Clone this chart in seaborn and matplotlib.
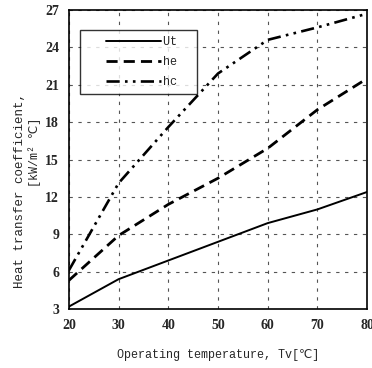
import matplotlib
matplotlib.use("Agg")
import matplotlib.pyplot as plt
from matplotlib.legend_handler import HandlerLine2D
import numpy as np
import seaborn as sns
import pandas as pd

temps = [20, 30, 40, 50, 60, 70, 80]
ut = [3.2, 5.4, 6.9, 8.4, 9.9, 11.0, 12.4]
he = [5.3, 8.9, 11.4, 13.5, 15.9, 19.0, 21.5]
hc = [6.1, 13.1, 17.6, 21.9, 24.6, 25.6, 26.7]
series_names = ["Ut", "he", "hc"]
x_ticks = [20, 30, 40, 50, 60, 70, 80]
y_ticks = [3, 6, 9, 12, 15, 18, 21, 24, 27]

df = pd.DataFrame({
    "T": temps * 3,
    "val": ut + he + hc,
    "series": sum([[n] * len(temps) for n in series_names], []),
})

sns.set_style("white")
plt.rcParams['font.family'] = ['Liberation Mono', 'DejaVu Sans']

fig = plt.figure(figsize=(3.72, 3.68), dpi=100)
ax = fig.add_axes([0.185, 0.160, 0.802, 0.813])

styles = {"Ut": ("-", 1.4), "he": ((0, (4, 2.2)), 2.0), "hc": ((0, (5, 2, 1, 2, 1, 2)), 1.9)}
for name in series_names:
    sub = df[df.series == name]
    ls, lw = styles[name]
    sns.lineplot(data=sub, x="T", y="val", ax=ax, color="black", linestyle=ls,
                 linewidth=lw, label=name + "  ")

ax.set_xlim(20, 80)
ax.set_ylim(3, 27)
ax.set_xticks(x_ticks)
ax.set_yticks(y_ticks)
ax.grid(True, color="#555555", linestyle=(0, (3, 5)), linewidth=0.8)
for s in ax.spines.values():
    s.set_color("black")
    s.set_linewidth(1.2)
ax.tick_params(axis="both", direction="in", length=0, labelsize=10, pad=7)
for lab in ax.get_xticklabels() + ax.get_yticklabels():
    lab.set_fontfamily("Liberation Serif")
    lab.set_fontweight("bold")

ax.set_xlabel("Operating temperature, Tv[℃]", fontsize=8.5, labelpad=12)
ax.set_ylabel("Heat transfer coefficient,", fontsize=9)
ax.yaxis.label.set_verticalalignment("center")
ax.yaxis.set_label_coords(-0.164, 0.395)
ax.text(-0.114, 0.525, "[kW/m² ℃]", transform=ax.transAxes, rotation=90,
        ha="center", va="center", fontsize=8.5)


class PadHandler(HandlerLine2D):
    def get_xdata(self, legend, xdescent, ydescent, width, height, fontsize):
        x0 = -xdescent
        x1 = -xdescent + width
        start = x0 + 0.27 * (x1 - x0)
        return np.array([start, x1]), np.array([start, x1])


handles, labels = ax.get_legend_handles_labels()
leg = ax.legend(handles, labels, loc="upper left", bbox_to_anchor=(0.037, 0.933),
                frameon=True, fancybox=False, edgecolor="black", fontsize=8.5,
                handlelength=6.35, borderpad=0.5, labelspacing=0.7,
                handletextpad=0.2, borderaxespad=0,
                handler_map={h: PadHandler() for h in handles})
leg.get_frame().set_linewidth(1.0)

fig.savefig("out.png", dpi=100)
